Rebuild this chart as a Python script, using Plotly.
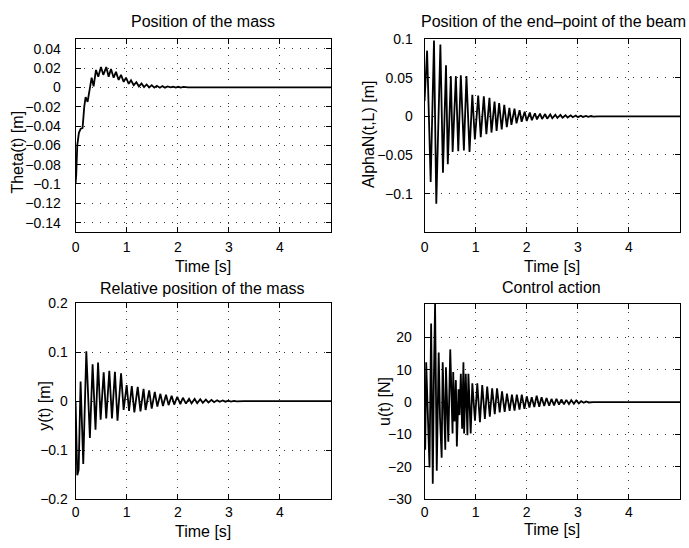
import plotly.graph_objects as go

theta_t = [0, 0.013, 0.033, 0.065, 0.098, 0.137, 0.17, 0.196, 0.235, 0.28,
           0.314, 0.353, 0.399, 0.444, 0.497, 0.542, 0.601, 0.647, 0.693, 0.745,
           0.791, 0.843, 0.889, 0.941, 0.987, 1.04, 1.085, 1.137, 1.19, 1.24,
           1.29, 1.34, 1.39, 1.44, 1.49, 1.54, 1.59, 1.65, 1.70, 1.75,
           1.80, 1.86, 1.91, 1.96, 2.01, 2.06, 2.11, 2.2, 5.0]
theta_v = [-0.1, -0.09, -0.06, -0.047, -0.043, -0.042, -0.02, -0.01, -0.015, 0.0,
           0.01, 0.001, 0.018, 0.011, 0.021, 0.013, 0.021, 0.011, 0.019, 0.01,
           0.016, 0.0077, 0.013, 0.0057, 0.01, 0.0037, 0.0073, 0.0023, 0.0053, 0.001,
           0.004, 0.0003, 0.003, 0.0, 0.0023, -0.0003, 0.0017, -0.0003, 0.0013, -0.0003,
           0.001, 0.0, 0.0008, -0.0003, 0.0006, -0.0002, 0.0004, 0.0, 0.0]

alpha_t = [0, 0.05, 0.12, 0.185, 0.23, 0.31, 0.36, 0.42, 0.455, 0.515,
           0.55, 0.613, 0.66, 0.71, 0.77, 0.82, 0.88, 0.935, 0.985, 1.05,
           1.1, 1.16, 1.21, 1.27, 1.31, 1.37, 1.41, 1.46, 1.51, 1.56,
           1.61, 1.66, 1.70, 1.76, 1.80, 1.86, 1.90, 1.96, 2.0, 2.06,
           2.1, 2.16, 2.2, 2.26, 2.3, 2.36, 2.4, 2.46, 2.5, 2.56,
           2.6, 2.66, 2.7, 2.76, 2.8, 2.86, 2.9, 2.96, 3.0, 3.06,
           3.1, 3.16, 3.2, 3.26, 3.3, 3.4, 5.0]
alpha_v = [0.02, 0.085, -0.085, 0.098, -0.113, 0.093, -0.073, 0.066, -0.062, 0.052,
           -0.046, 0.052, -0.045, 0.053, -0.044, 0.052, -0.046, 0.028, -0.03, 0.027,
           -0.027, 0.026, -0.023, 0.024, -0.021, 0.019, -0.019, 0.017, -0.017, 0.015,
           -0.014, 0.011, -0.011, 0.01, -0.009, 0.008, -0.007, 0.006, -0.006, 0.005,
           -0.005, 0.004, -0.004, 0.0035, -0.0035, 0.003, -0.003, 0.0025, -0.0025, 0.002,
           -0.002, 0.0018, -0.0018, 0.0015, -0.0015, 0.0013, -0.0012, 0.001, -0.001, 0.0008,
           -0.0008, 0.0006, -0.0006, 0.0004, -0.0004, 0.0, 0.0]

yrel_t = [0, 0.033, 0.06, 0.098, 0.15, 0.21, 0.28, 0.333, 0.39, 0.44,
          0.49, 0.55, 0.60, 0.66, 0.712, 0.77, 0.82, 0.89, 0.94, 1.0,
          1.046, 1.1, 1.15, 1.216, 1.27, 1.33, 1.37, 1.44, 1.49, 1.55,
          1.6, 1.66, 1.71, 1.77, 1.82, 1.88, 1.93, 1.99, 2.05, 2.1,
          2.16, 2.22, 2.27, 2.33, 2.38, 2.44, 2.49, 2.55, 2.6, 2.66,
          2.71, 2.77, 2.82, 2.88, 2.93, 2.99, 3.04, 3.1, 3.15, 3.3, 5.0]
yrel_v = [0, -0.151, -0.14, 0.04, -0.128, 0.102, -0.075, 0.075, -0.058, 0.079,
          -0.038, 0.059, -0.035, 0.062, -0.035, 0.06, -0.04, 0.057, -0.018, 0.033,
          -0.02, 0.031, -0.023, 0.029, -0.021, 0.025, -0.018, 0.022, -0.015, 0.019,
          -0.011, 0.015, -0.01, 0.013, -0.008, 0.011, -0.007, 0.009, -0.006, 0.007,
          -0.005, 0.005, -0.0045, 0.0045, -0.004, 0.004, -0.0033, 0.0033, -0.0027, 0.0027,
          -0.002, 0.002, -0.0013, 0.0013, -0.001, 0.001, -0.0007, 0.0007, -0.0004, 0.0, 0.0]

u_t = [0, 0.013, 0.032, 0.065, 0.097, 0.129, 0.161, 0.181, 0.206, 0.239,
       0.277, 0.303, 0.335, 0.355, 0.381, 0.406, 0.419, 0.465, 0.503, 0.548,
       0.561, 0.587, 0.613, 0.632, 0.665, 0.684, 0.71, 0.735, 0.761, 0.774,
       0.806, 0.839, 0.858, 0.903, 0.935, 0.987, 1.032, 1.084, 1.129, 1.181,
       1.226, 1.277, 1.323, 1.374, 1.419, 1.471, 1.516, 1.568, 1.613, 1.665,
       1.71, 1.761, 1.806, 1.858, 1.903, 1.955, 2.0, 2.052, 2.097, 2.148,
       2.194, 2.245, 2.29, 2.342, 2.387, 2.439, 2.484, 2.535, 2.581, 2.632,
       2.677, 2.729, 2.774, 2.826, 2.871, 2.923, 2.968, 3.019, 3.065, 3.116,
       3.161, 3.213, 3.3, 5.0]
u_v = [3, -14.7, 12.3, -8, -20.2, 24.3, -25.2, 5, 30.5, -21.2,
       15.3, -5, -17.2, 12.3, -3, -14.7, 10.8, -12.2, 16.3, -9.7,
       9.3, -6, 6.8, -13.7, 4, -4, 8.8, -8.2, 12.3, -9.7,
       8.8, -10.2, 8.8, -9.7, 5.8, -5.7, 5.8, -6.2, 5.3, -5.2,
       4.8, -4.5, 4.3, -3.7, 4.3, -3.2, 3.3, -3.0, 2.6, -2.7,
       2.3, -2.6, 2.3, -2.3, 2.3, -2.1, 1.8, -1.7, 1.5, -1.5,
       2.0, -1.4, 1.5, -1.2, 1.3, -1.1, 1.0, -1.0, 1.0, -0.8,
       0.8, -0.7, 0.7, -0.6, 0.6, -0.5, 0.5, -0.4, 0.3, -0.2,
       0.2, -0.1, 0.0, 0.0]

# Achsenbeschriftungen
x_ticks = [0, 1, 2, 3, 4]
theta_ticks = [-0.14, -0.12, -0.1, -0.08, -0.06, -0.04, -0.02, 0, 0.02, 0.04]
theta_labels = ["\u22120.14", "\u22120.12", "\u22120.1", "\u22120.08", "\u22120.06",
                "\u22120.04", "\u22120.02", "0", "0.02", "0.04"]
alpha_ticks = [-0.1, -0.05, 0, 0.05, 0.1]
alpha_labels = ["\u22120.1", "\u22120.05", "0", "0.05", "0.1"]
yrel_ticks = [-0.2, -0.1, 0, 0.1, 0.2]
yrel_labels = ["\u22120.2", "\u22120.1", "0", "0.1", "0.2"]
u_ticks = [-30, -20, -10, 0, 10, 20]
u_labels = ["\u221230", "\u221220", "\u221210", "0", "10", "20"]

W, H = 689, 548
FONT = "Liberation Sans, Arial, Helvetica, sans-serif"


def px_x(p):
    return p / W


def px_y(p):
    return 1 - p / H


def axis_style(standoff):
    return dict(showline=True, linecolor="black", linewidth=1, mirror="allticks",
                ticks="inside", ticklen=5, tickcolor="black",
                showgrid=True, gridcolor="#333333", gridwidth=1, griddash="1px,7px",
                zeroline=False, tickfont=dict(size=14, color="black", family=FONT),
                ticklabelstandoff=standoff)


def make_plot():
    fig = go.Figure()
    series = [(theta_t, theta_v, "x", "y"), (alpha_t, alpha_v, "x2", "y2"),
              (yrel_t, yrel_v, "x3", "y3"), (u_t, u_v, "x4", "y4")]
    for t, v, xa, ya in series:
        fig.add_trace(go.Scatter(x=t, y=v, mode="lines", xaxis=xa, yaxis=ya,
                                 line=dict(color="black", width=1.8), showlegend=False))

    # Plotbereiche in Pixeln: (links, rechts, oben, unten)
    boxes = [(72, 329, 32, 231), (423, 680, 32, 231), (72, 329, 304, 506), (423, 680, 305, 506)]
    yinfo = [([-0.15, 0.05], theta_ticks, theta_labels),
             ([-0.15, 0.1], alpha_ticks, alpha_labels),
             ([-0.2, 0.2], yrel_ticks, yrel_labels),
             ([-30, 30.3], u_ticks, u_labels)]
    xstand = [2, 2, 0, 0]
    ystand = [11, 8, 4, 9]
    layout = {}
    for i, (l, r, t, b) in enumerate(boxes):
        sx = "" if i == 0 else str(i + 1)
        xa = axis_style(xstand[i])
        xa.update(domain=[px_x(l), px_x(r)], range=[0, 5], tickvals=x_ticks,
                  anchor="y" + sx)
        ya = axis_style(ystand[i])
        rng, tv, tt = yinfo[i]
        ya.update(domain=[px_y(b), px_y(t)], range=rng, tickvals=tv, ticktext=tt,
                  anchor="x" + sx)
        layout["xaxis" + sx] = xa
        layout["yaxis" + sx] = ya
    fig.update_layout(**layout)

    texts = [
        ("Position of the mass", 200, 14, 0),
        ("Position of the end\u2013point of the beam", 553, 14, 0),
        ("Relative position of the mass", 200, 289, 0),
        ("Control action", 551, 288, 0),
        ("Time [s]", 200, 266, 0),
        ("Time [s]", 551, 266, 0),
        ("Time [s]", 200, 539, 0),
        ("Time [s]", 551, 537, 0),
        ("Theta(t) [m]", 14, 148, -90),
        ("AlphaN(t,L) [m]", 366, 130, -90),
        ("y(t) [m]", 40, 410, -90),
        ("u(t) [N]", 382, 405, -90),
    ]
    for txt, x, y, ang in texts:
        fig.add_annotation(text=txt, x=px_x(x), y=px_y(y), xref="paper", yref="paper",
                           showarrow=False, textangle=ang, xanchor="center", yanchor="middle",
                           font=dict(size=16, color="black", family=FONT))

    fig.update_layout(width=W, height=H, margin=dict(l=0, r=0, t=0, b=0),
                      paper_bgcolor="white", plot_bgcolor="white",
                      font=dict(family=FONT, color="black"))
    return fig


if __name__ == "__main__":
    fig = make_plot()
    # Seitenrand des Browsers entfernen, damit die Pixelpositionen stimmen
    fig.write_html("out.html", config={"displayModeBar": False},
                   post_script="document.body.style.margin='0';")
